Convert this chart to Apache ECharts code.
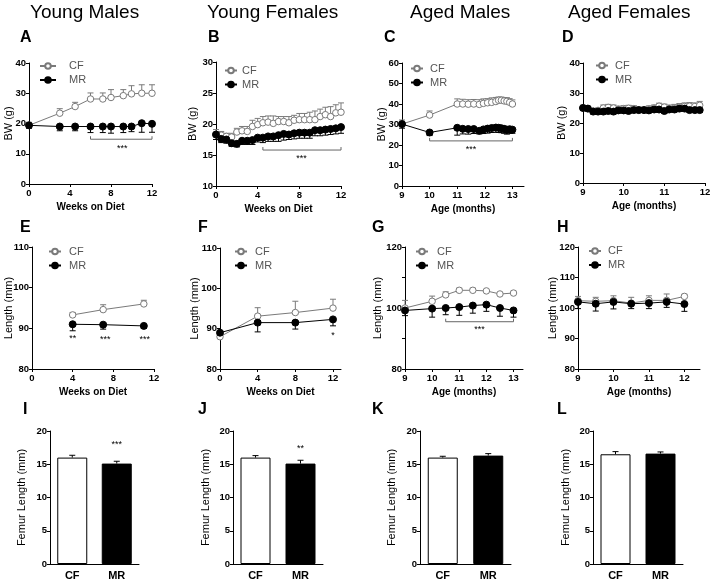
<!DOCTYPE html>
<html><head><meta charset="utf-8">
<script src="https://cdn.jsdelivr.net/npm/echarts@6/dist/echarts.min.js"></script>
<style>html,body{margin:0;padding:0;background:#fff}#c{width:710px;height:580px}</style>
</head><body><div id="c"></div>
<script>
const FF = '"Liberation Sans", Arial, Helvetica, sans-serif';
const GRAY = '#7a7a7a';

// ---------- DATA ----------
const groupTitles = ['Young Males', 'Young Females', 'Aged Males', 'Aged Females'];
const panelLetters = ['A','B','C','D','E','F','G','H','I','J','K','L'];
const seriesNames = ['CF', 'MR'];
const barCategories = ['CF', 'MR'];
const weekTicks = [0, 4, 8, 12];
const monthTicks9to13 = [9, 10, 11, 12, 13];
const monthTicks9to12 = [9, 10, 11, 12];

// A: young males BW (g)
const weeksA = [0, 3, 4.5, 6, 7.2, 8, 9.2, 10, 11, 12];
const bwA_CF = [19.4, 23.4, 25.6, 28.1, 28.1, 28.6, 29.2, 29.8, 30.0, 30.0];
const bwA_CF_sem = [1.0, 1.5, 1.4, 2.0, 2.0, 2.6, 2.0, 2.7, 2.8, 2.8];
const bwA_MR = [19.4, 19.0, 19.0, 19.0, 19.0, 19.0, 19.0, 19.0, 20.1, 19.9];
const bwA_MR_sem = [1.0, 1.4, 1.4, 2.0, 2.0, 2.2, 2.0, 1.7, 3.0, 2.8];

// B: young females BW (g)
const weeksB = [0,0.5,1,1.5,2,2.5,3,3.5,4,4.5,5,5.5,6,6.5,7,7.5,8,8.5,9,9.5,10,10.5,11,11.5,12];
const bwB_CF = [18.3,18.2,18.0,17.9,18.7,18.9,18.8,19.6,19.9,20.2,20.3,20.1,20.4,20.4,20.2,20.6,20.7,20.7,20.7,20.7,21.2,21.5,21.2,21.8,21.9];
const bwB_CF_sem = [0.8,0.6,0.5,0.6,0.6,0.7,0.8,1.0,1.0,1.0,1.0,1.2,0.8,0.8,1.0,0.8,1.0,1.0,1.2,1.4,1.2,1.2,1.6,1.3,1.5];
const bwB_MR = [18.3,17.6,17.5,16.9,16.8,17.3,17.3,17.4,17.8,17.8,18.0,18.0,18.2,18.4,18.3,18.5,18.6,18.6,18.6,19.0,19.0,19.1,19.2,19.3,19.5];
const bwB_MR_sem = [0.8,0.6,0.6,0.5,0.5,0.6,0.6,0.7,0.7,0.8,0.8,0.8,1.0,1.0,0.8,0.9,0.9,0.9,0.9,0.9,0.9,0.9,0.9,0.9,1.0];

// C: aged males BW (g)
const monthsC = [9, 10, 11, 11.2, 11.4, 11.6, 11.8, 11.95, 12.1, 12.25, 12.4, 12.5, 12.6, 12.7, 12.8, 12.9, 13.0];
const bwC_CF = [30.2, 34.6, 40.0, 40.0, 39.9, 40.0, 39.8, 40.3, 40.6, 40.8, 41.2, 41.8, 41.8, 41.5, 41.3, 40.8, 40.0];
const bwC_CF_sem = [2.0, 2.0, 2.5, 2.3, 2.2, 2.2, 2.3, 2.2, 2.0, 2.2, 2.0, 1.6, 1.6, 1.6, 1.8, 1.8, 2.0];
const bwC_MR = [30.2, 26.1, 28.4, 27.9, 27.8, 27.8, 26.9, 27.6, 28.0, 28.3, 28.5, 28.4, 28.2, 27.9, 27.5, 27.7, 27.5];
const bwC_MR_sem = [2.0, 1.5, 3.6, 2.5, 2.5, 2.2, 1.5, 2.0, 2.2, 2.2, 2.3, 2.3, 2.2, 2.2, 2.2, 2.0, 1.8];

// D: aged females BW (g)
const monthsD = [9.0,9.12,9.25,9.37,9.5,9.62,9.75,9.87,10.0,10.12,10.25,10.37,10.5,10.62,10.75,10.87,11.0,11.12,11.25,11.37,11.5,11.62,11.75,11.87];
const bwD_CF = [25.1,24.8,24.0,24.2,25.0,25.2,25.0,24.6,24.8,24.9,24.8,24.3,24.3,24.7,25.0,25.6,25.3,24.8,25.0,25.3,25.5,25.6,25.5,25.9];
const bwD_CF_sem = [0.8,0.8,0.8,0.8,1.0,1.0,1.0,1.0,1.0,1.0,1.0,1.0,1.0,1.0,1.0,1.0,1.0,1.2,1.2,1.2,1.2,1.2,1.2,1.3];
const bwD_MR = [25.0,24.8,23.8,23.8,23.8,24.0,23.8,24.2,24.2,24.0,24.3,24.3,24.3,24.2,24.5,24.5,24.0,24.5,24.5,24.8,24.8,24.3,24.3,24.3];
const bwD_MR_sem = [0.8,0.8,0.8,0.8,0.8,0.8,0.8,0.8,0.8,0.8,0.8,0.8,0.8,0.8,0.8,0.8,0.8,0.8,0.8,0.8,0.8,0.8,0.8,0.8];

// E: young males length (mm)
const weeksE = [4, 7, 11];
const lenE_CF = [93.3, 94.6, 96.0];
const lenE_CF_sem = [0.6, 1.2, 0.9];
const lenE_MR = [91.0, 90.9, 90.6];
const lenE_MR_sem = [1.6, 1.1, 0.6];

// F: young females length (mm)
const weeksF = [0, 4, 8, 12];
const lenF_CF = [88.0, 93.1, 94.0, 95.1];
const lenF_CF_sem = [0.6, 2.1, 2.8, 2.2];
const lenF_MR = [89.0, 91.5, 91.5, 92.3];
const lenF_MR_sem = [0.6, 2.3, 1.6, 1.6];

// G: aged males length (mm)
const monthsG = [9, 10, 10.5, 11, 11.5, 12, 12.5, 13];
const lenG_CF = [100.0, 102.2, 104.3, 105.8, 105.8, 105.6, 104.6, 104.9];
const lenG_CF_sem = [2.5, 1.7, 1.0, 0.7, 0.7, 0.3, 0.3, 0.6];
const lenG_MR = [99.2, 99.8, 100.0, 100.3, 100.8, 101.1, 100.0, 99.2];
const lenG_MR_sem = [1.7, 2.8, 2.2, 2.7, 2.5, 2.2, 2.7, 2.2];

// H: aged females length (mm)
const monthsH = [9, 9.5, 10, 10.5, 11, 11.5, 12];
const lenH_CF = [102.4, 102.2, 102.4, 101.6, 102.5, 102.5, 103.8];
const lenH_CF_sem = [1.4, 1.3, 1.6, 1.9, 1.5, 2.1, 0.7];
const lenH_MR = [102.0, 101.4, 102.0, 101.4, 101.6, 102.0, 101.3];
const lenH_MR_sem = [2.2, 2.4, 2.3, 1.6, 1.8, 1.8, 2.4];

// I-L: femur length (mm) [CF, MR]
const femurI = [16.0, 15.1], femurI_sem = [0.35, 0.35];
const femurJ = [16.0, 15.1], femurJ_sem = [0.3, 0.5];
const femurK = [16.0, 16.3], femurK_sem = [0.2, 0.3];
const femurL = [16.5, 16.6], femurL_sem = [0.4, 0.25];

// significance brackets [x1, x2, y] and stars [x, y, text]
const bracketA = [6, 12, 14.8];
const starsA = [[9.1, 11.6, '***']];
const bracketB = [4.5, 12, 15.8];
const starsB = [[8.2, 14.4, '***']];
const bracketC = [10, 13, 22.0];
const starsC = [[11.5, 17.6, '***']];
const starsE = [[4, 87.6, '**'], [7.2, 87.2, '***'], [11.1, 87.2, '***']];
const starsF = [[12, 88.3, '*']];
const bracketG = [10.5, 13, 95.5];
const starsG = [[11.75, 92.9, '***']];
const starsI = [[1, 17.9, '***']];
const starsJ = [[1, 17.4, '**']];

// ---------- LAYOUT ----------
const grids = [
  [29, 63, 123, 121], [216, 62, 125, 124], [402, 63, 122, 123], [583, 63, 122, 120],
  [32, 247, 122, 122], [220, 248, 121, 121], [405, 247, 118, 122], [578, 247, 122, 122],
  [50, 431, 89, 133], [233, 431, 90, 133], [420, 431, 91, 133], [593, 431, 90, 133]
];
const titlePos = [[30, 3], [207, 3], [410, 3], [568, 3]];
const letterPos = [[20,30],[208,30],[384,30],[562,30],[20,220],[198,220],[372,220],[557,220],[23,402],[198,402],[372,402],[557,402]];
// [left, top, iconWidth, textPadLeft]
const legendPos = [[39,59.5,16,8],[224,64,12,0],[410,62,12,2],[595,59,12,2],[48,245,12,3],[234,245,12,3],[415,245,12,4],[588,244.5,12,2]];

function axisBase() {
  return {
    axisLine: {show: true, onZero: false, lineStyle: {color: '#000', width: 1}},
    axisTick: {show: true, inside: false, length: 3, lineStyle: {color: '#000', width: 1}},
    axisLabel: {color: '#000', fontFamily: FF, fontSize: 9.5, fontWeight: 'bold', margin: 3},
    splitLine: {show: false},
    nameMoveOverlap: false
  };
}
function xVal(i, min, max, ticks, name) {
  const a = axisBase();
  Object.assign(a, {type: 'value', gridIndex: i, min, max, name: name || '',
    nameLocation: 'middle', nameGap: 18,
    nameTextStyle: {fontFamily: FF, fontSize: 10, fontWeight: 'bold', color: '#000'}});
  a.axisTick.customValues = ticks;
  a.axisLabel.customValues = ticks;
  a.axisLabel.margin = 4;
  return a;
}
function yVal(i, min, max, interval, name, gap, minor) {
  const a = axisBase();
  Object.assign(a, {type: 'value', gridIndex: i, min, max, interval, name,
    nameLocation: 'middle', nameGap: gap,
    nameTextStyle: {fontFamily: FF, fontSize: 11, color: '#000'}});
  if (minor) a.minorTick = {show: true, splitNumber: 2, length: 3, lineStyle: {color: '#000'}};
  return a;
}
function xCat(i) {
  const a = axisBase();
  Object.assign(a, {type: 'category', gridIndex: i, data: barCategories});
  a.axisTick.show = false;
  a.axisLabel.fontSize = 11;
  a.axisLabel.margin = 6;
  return a;
}

function lineSeries(i, name, xs, ys) {
  const cf = name === 'CF';
  return {type: 'line', name, xAxisIndex: i, yAxisIndex: i,
    data: xs.map((x, k) => [x, ys[k]]),
    symbol: 'circle', symbolSize: cf ? 6.5 : 7,
    lineStyle: {color: cf ? GRAY : '#000', width: 1},
    itemStyle: {color: cf ? '#fff' : '#000', borderColor: cf ? GRAY : '#000', borderWidth: 1},
    z: cf ? 4 : 5, silent: true};
}
function errSeries(i, xs, ys, es, dir, color) {
  return {type: 'custom', xAxisIndex: i, yAxisIndex: i, z: 3, silent: true,
    data: xs.map((x, k) => [x, ys[k], ys[k] + dir * es[k]]),
    renderItem: (p, api) => {
      const a = api.coord([api.value(0), api.value(1)]);
      const b = api.coord([api.value(0), api.value(2)]);
      const w = 3;
      return {type: 'group', children: [
        {type: 'line', shape: {x1: a[0], y1: a[1], x2: b[0], y2: b[1]}, style: {stroke: color, lineWidth: 1}},
        {type: 'line', shape: {x1: b[0] - w, y1: b[1], x2: b[0] + w, y2: b[1]}, style: {stroke: color, lineWidth: 1}}
      ]};
    }};
}
function bracketSeries(i, br) {
  return {type: 'custom', xAxisIndex: i, yAxisIndex: i, z: 3, silent: true, data: [br],
    renderItem: (p, api) => {
      const a = api.coord([api.value(0), api.value(2)]);
      const b = api.coord([api.value(1), api.value(2)]);
      return {type: 'polyline', shape: {points: [[a[0], a[1] - 3], [a[0], a[1]], [b[0], b[1]], [b[0], b[1] - 3]]},
        style: {stroke: '#666', lineWidth: 1, fill: null}};
    }};
}
function starSeries(i, stars) {
  return {type: 'custom', xAxisIndex: i, yAxisIndex: i, z: 6, silent: true,
    data: stars.map(s => [s[0], s[1]]),
    renderItem: (p, api) => {
      const c = api.coord([api.value(0), api.value(1)]);
      return {type: 'text', x: c[0], y: c[1], style: {text: stars[p.dataIndex][2], fill: '#000',
        font: '9px ' + FF, align: 'center', verticalAlign: 'middle', textAlign: 'center', textVerticalAlign: 'middle'}};
    }};
}
function barPanel(i, vals, sems) {
  return [
    {type: 'bar', xAxisIndex: i, yAxisIndex: i, barWidth: 30, silent: true,
      data: vals.map((v, k) => ({value: v, itemStyle: {color: k === 0 ? '#fff' : '#000', borderColor: '#000', borderWidth: 1}}))},
    errSeries(i, [0, 1], vals, sems, 1, '#000')
  ];
}
function linePanel(i, xs, cf, cfE, mr, mrE) {
  return [
    errSeries(i, xs, cf, cfE, 1, GRAY),
    errSeries(i, xs, mr, mrE, -1, '#000'),
    lineSeries(i, seriesNames[0], xs, cf),
    lineSeries(i, seriesNames[1], xs, mr)
  ];
}

const series = [].concat(
  linePanel(0, weeksA, bwA_CF, bwA_CF_sem, bwA_MR, bwA_MR_sem),
  linePanel(1, weeksB, bwB_CF, bwB_CF_sem, bwB_MR, bwB_MR_sem),
  linePanel(2, monthsC, bwC_CF, bwC_CF_sem, bwC_MR, bwC_MR_sem),
  linePanel(3, monthsD, bwD_CF, bwD_CF_sem, bwD_MR, bwD_MR_sem),
  linePanel(4, weeksE, lenE_CF, lenE_CF_sem, lenE_MR, lenE_MR_sem),
  linePanel(5, weeksF, lenF_CF, lenF_CF_sem, lenF_MR, lenF_MR_sem),
  linePanel(6, monthsG, lenG_CF, lenG_CF_sem, lenG_MR, lenG_MR_sem),
  linePanel(7, monthsH, lenH_CF, lenH_CF_sem, lenH_MR, lenH_MR_sem),
  barPanel(8, femurI, femurI_sem),
  barPanel(9, femurJ, femurJ_sem),
  barPanel(10, femurK, femurK_sem),
  barPanel(11, femurL, femurL_sem),
  [bracketSeries(0, bracketA), starSeries(0, starsA),
   bracketSeries(1, bracketB), starSeries(1, starsB),
   bracketSeries(2, bracketC), starSeries(2, starsC),
   starSeries(4, starsE), starSeries(5, starsF),
   bracketSeries(6, bracketG), starSeries(6, starsG),
   starSeries(8, starsI), starSeries(9, starsJ)]
);

const xAxis = [
  xVal(0, 0, 12, weekTicks, 'Weeks on Diet'),
  xVal(1, 0, 12, weekTicks, 'Weeks on Diet'),
  xVal(2, 9, 13.42, monthTicks9to13, 'Age (months)'),
  xVal(3, 9, 12, monthTicks9to12, 'Age (months)'),
  xVal(4, 0, 12, weekTicks, 'Weeks on Diet'),
  xVal(5, 0, 12.85, weekTicks, 'Weeks on Diet'),
  xVal(6, 9, 13.35, monthTicks9to13, 'Age (months)'),
  xVal(7, 9, 12.44, monthTicks9to12, 'Age (months)'),
  xCat(8), xCat(9), xCat(10), xCat(11)
];
const yAxis = [
  yVal(0, 0, 40, 10, 'BW (g)', 15),
  yVal(1, 10, 30, 5, 'BW (g)', 18),
  yVal(2, 0, 60, 10, 'BW (g)', 15),
  yVal(3, 0, 40, 10, 'BW (g)', 16),
  yVal(4, 80, 110, 10, 'Length (mm)', 18),
  yVal(5, 80, 110, 10, 'Length (mm)', 20),
  yVal(6, 80, 120, 20, 'Length (mm)', 22, true),
  yVal(7, 80, 120, 10, 'Length (mm)', 20),
  yVal(8, 0, 20, 5, 'Femur Length (mm)', 23),
  yVal(9, 0, 20, 5, 'Femur Length (mm)', 22),
  yVal(10, 0, 20, 5, 'Femur Length (mm)', 23),
  yVal(11, 0, 20, 5, 'Femur Length (mm)', 22)
];

const graphic = [];
groupTitles.forEach((t, k) => graphic.push({type: 'text', left: titlePos[k][0], top: titlePos[k][1],
  style: {text: t, font: '19px ' + FF, fill: '#000'}}));
panelLetters.forEach((t, k) => graphic.push({type: 'text', left: letterPos[k][0], top: letterPos[k][1],
  style: {text: t, font: 'bold 16px ' + FF, fill: '#000'}}));

const chart = echarts.init(document.getElementById('c'), null, {renderer: 'canvas'});
chart.setOption({
  animation: false,
  backgroundColor: '#fff',
  grid: grids.map(g => ({left: g[0], top: g[1], width: g[2], height: g[3], containLabel: false, outerBoundsMode: 'none'})),
  xAxis, yAxis, series, graphic,
  legend: legendPos.map(p => ({data: seriesNames, orient: 'vertical', left: p[0], top: p[1], padding: 0,
    itemWidth: p[2], itemHeight: 7, itemGap: 1, selectedMode: false,
    textStyle: {fontFamily: FF, fontSize: 11, lineHeight: 13, color: '#555', padding: [0, 0, 0, p[3]]}}))
});
</script></body></html>
